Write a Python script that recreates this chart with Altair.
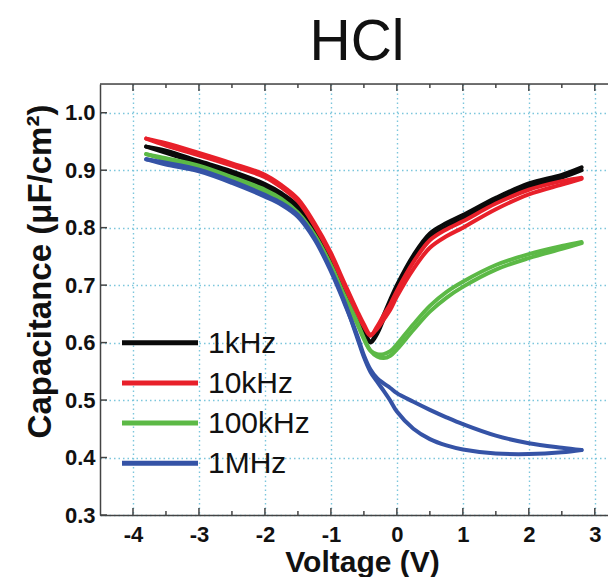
import altair as alt
import pandas as pd

# ---------------- data ----------------
voltage = [-3.8, -3.5, -3.0, -2.5, -2.0, -1.75, -1.5, -1.25, -1.0, -0.8, -0.6, -0.5,
           -0.4, -0.3, -0.2, -0.1, 0.0, 0.25, 0.5, 0.75, 1.0, 1.5, 2.0, 2.5, 2.8]

black_fwd = [0.941, 0.934, 0.916, 0.898, 0.876, 0.860, 0.838, 0.798, 0.746, 0.695, 0.645, 0.622,
             0.602, 0.620, 0.648, 0.675, 0.700, 0.752, 0.790, 0.808, 0.822, 0.852, 0.877, 0.892, 0.905]
black_rev = [0.941, 0.930, 0.912, 0.894, 0.872, 0.856, 0.834, 0.794, 0.742, 0.690, 0.640, 0.617,
             0.600, 0.615, 0.641, 0.668, 0.693, 0.745, 0.783, 0.801, 0.816, 0.846, 0.871, 0.887, 0.900]

red_fwd = [0.955, 0.947, 0.930, 0.912, 0.892, 0.874, 0.850, 0.808, 0.756, 0.705, 0.655, 0.632,
           0.614, 0.624, 0.640, 0.657, 0.680, 0.728, 0.765, 0.785, 0.800, 0.832, 0.858, 0.875, 0.885]
red_rev = [0.955, 0.943, 0.926, 0.908, 0.888, 0.870, 0.846, 0.804, 0.752, 0.700, 0.650, 0.628,
           0.612, 0.628, 0.648, 0.667, 0.690, 0.740, 0.778, 0.797, 0.811, 0.842, 0.866, 0.881, 0.887]

green_fwd = [0.928, 0.921, 0.908, 0.888, 0.866, 0.850, 0.826, 0.788, 0.735, 0.683, 0.635, 0.608,
             0.586, 0.576, 0.573, 0.577, 0.588, 0.622, 0.654, 0.678, 0.697, 0.727, 0.747, 0.763, 0.773]
green_rev = [0.928, 0.918, 0.905, 0.885, 0.863, 0.847, 0.823, 0.785, 0.732, 0.680, 0.632, 0.606,
             0.586, 0.580, 0.580, 0.585, 0.597, 0.632, 0.664, 0.688, 0.706, 0.735, 0.754, 0.768, 0.775]

blue_fwd = [0.919, 0.913, 0.901, 0.881, 0.857, 0.843, 0.822, 0.783, 0.727, 0.673, 0.608, 0.575,
            0.549, 0.532, 0.516, 0.499, 0.480, 0.450, 0.432, 0.421, 0.414, 0.407, 0.406, 0.409, 0.413]
blue_rev = [0.919, 0.910, 0.898, 0.878, 0.854, 0.840, 0.819, 0.780, 0.724, 0.670, 0.612, 0.578,
            0.553, 0.538, 0.529, 0.521, 0.512, 0.497, 0.483, 0.470, 0.458, 0.438, 0.425, 0.417, 0.413]

series_names = ["1kHz", "10kHz", "100kHz", "1MHz"]
series_colors = ["#0a0a0a", "#e8202a", "#5cb946", "#3553a6"]
series_fwd = [black_fwd, red_fwd, green_fwd, blue_fwd]
series_rev = [black_rev, red_rev, green_rev, blue_rev]

x_ticks = [-4, -3, -2, -1, 0, 1, 2, 3]
x_minor = [-3.5, -2.5, -1.5, -0.5, 0.5, 1.5, 2.5]
y_ticks = [0.3, 0.4, 0.5, 0.6, 0.7, 0.8, 0.9, 1.0]
title_text = "HCl"

# ---------------- layout ----------------
W, H = 508, 431
X_DOMAIN = [-4.5, 3.2]
Y_DOMAIN = [0.3, 1.05]
FONT = "Liberation Sans"
AXIS_COLOR = "#444444"
GRID_COLOR = "#7cc6dc"

rows = []
for name, fwd, rev in zip(series_names, series_fwd, series_rev):
    for v, c in zip(voltage, fwd):
        rows.append({"V": v, "C": c, "series": name, "branch": name + "_f"})
    for v, c in zip(voltage, rev):
        rows.append({"V": v, "C": c, "series": name, "branch": name + "_r"})
df = pd.DataFrame(rows)

xscale = alt.Scale(domain=X_DOMAIN, nice=False, zero=False)
yscale = alt.Scale(domain=Y_DOMAIN, nice=False, zero=False)

x_axis = alt.Axis(
    values=x_ticks, grid=True, gridColor=GRID_COLOR, gridDash=[1.5, 3], gridWidth=1.4,
    ticks=False, domainColor=AXIS_COLOR, domainWidth=1.5,
    labelFont=FONT, labelFontSize=22, labelFontWeight="bold", labelColor="#111111",
    labelPadding=9, labelExpr="'' + datum.value",
    title="Voltage (V)", titleFont=FONT, titleFontSize=30, titleFontWeight="bold",
    titleColor="#111111", titleX=262, titleY=56, titleBaseline="alphabetic", titleAlign="center",
)
y_axis = alt.Axis(
    values=y_ticks, grid=True, gridColor=GRID_COLOR, gridDash=[1.5, 3], gridWidth=1.4,
    ticks=False, domainColor=AXIS_COLOR, domainWidth=1.5, format=".1f",
    labelFont=FONT, labelFontSize=22, labelFontWeight="bold", labelColor="#111111",
    labelPadding=5,
    title="Capacitance (μF/cm²)", titleFont=FONT, titleFontSize=33, titleFontWeight="bold",
    titleColor="#111111", titleAngle=-90, titleX=-60, titleY=187,
    titleBaseline="middle", titleAlign="center",
)

bx = alt.X("V:Q", scale=xscale, axis=x_axis)
by = alt.Y("C:Q", scale=yscale, axis=y_axis)

layers = []
for name, color in zip(series_names, series_colors):
    sub = df[df["series"] == name]
    layers.append(
        alt.Chart(sub).mark_line(interpolate="catmull-rom", strokeWidth=4, strokeCap="round",
                                 strokeJoin="round", color=color)
        .encode(x=bx, y=by, detail="branch:N")
    )

# top frame and inward ticks
frame_df = pd.DataFrame({"a": [0]})
top_line = alt.Chart(frame_df).mark_rule(color=AXIS_COLOR, strokeWidth=1.5).encode(
    x=alt.value(0), x2=alt.value(W), y=alt.value(0))

xt_df = pd.DataFrame({"V": x_ticks})
xm_df = pd.DataFrame({"V": x_minor})
yt_df = pd.DataFrame({"C": y_ticks})

tick_style = dict(color=AXIS_COLOR, strokeWidth=1.5)
ticks = [
    alt.Chart(xt_df).mark_rule(**tick_style).encode(x=bx, y=alt.value(H), y2=alt.value(H - 7)),
    alt.Chart(xm_df).mark_rule(**tick_style).encode(x=bx, y=alt.value(H), y2=alt.value(H - 4)),
    alt.Chart(xt_df).mark_rule(**tick_style).encode(x=bx, y=alt.value(0), y2=alt.value(7)),
    alt.Chart(xm_df).mark_rule(**tick_style).encode(x=bx, y=alt.value(0), y2=alt.value(4)),
    alt.Chart(yt_df).mark_rule(**tick_style).encode(y=by, x=alt.value(0), x2=alt.value(7)),
]

# chart title as a text mark above the plot
title_layer = alt.Chart(pd.DataFrame({"t": [title_text]})).mark_text(
    align="center", baseline="alphabetic", font=FONT, fontSize=57, color="#111111"
).encode(x=alt.value(257), y=alt.value(-24), text="t:N")

# legend (inside the plot)
legend_layers = []
LEG_Y0, LEG_DY = 258.7, 40.2
for i, (name, color) in enumerate(zip(series_names, series_colors)):
    ldf = pd.DataFrame({"name": [name]})
    yy = LEG_Y0 + LEG_DY * i
    legend_layers.append(
        alt.Chart(ldf).mark_rule(color=color, strokeWidth=5).encode(
            x=alt.value(22), x2=alt.value(98), y=alt.value(yy))
    )
    legend_layers.append(
        alt.Chart(ldf).mark_text(align="left", baseline="middle", font=FONT, fontSize=30,
                                 color="#111111").encode(
            x=alt.value(108), y=alt.value(yy + 1), text="name:N")
    )

chart = alt.layer(*layers, top_line, *ticks, title_layer, *legend_layers).properties(
    width=W, height=H,
    autosize=alt.AutoSizeParams(type="none"),
    padding={"left": 92, "top": 76, "right": 0, "bottom": 62},
).configure_view(strokeWidth=0).configure(background="white")

chart.save("out.html", embed_options={"renderer": "svg", "actions": False})
